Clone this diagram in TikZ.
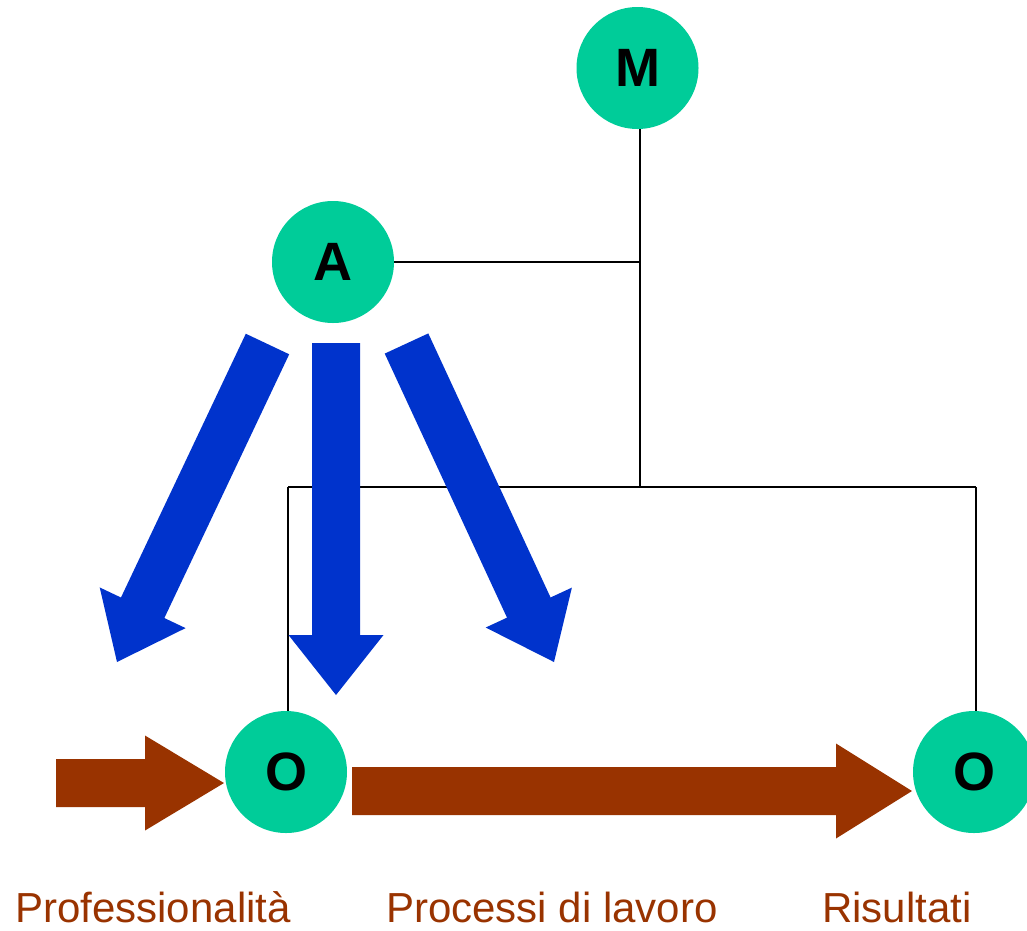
\documentclass[tikz,border=0pt]{standalone}
\usepackage{fontspec}
\setmainfont{Liberation Sans}
\usetikzlibrary{calc,backgrounds}
\definecolor{nodegreen}{HTML}{00CC99}
\definecolor{arrowblue}{HTML}{0033CC}
\definecolor{mybrown}{HTML}{993300}
% tail, tip, shaft half-width, head half-width, head length, style
\newcommand{\fatarrow}[6]{%
  \coordinate (hb) at ($(#2)!#5!(#1)$);
  \fill[#6] ($(#1)!#3!90:(#2)$) -- ($(hb)!#3!90:(#2)$) -- ($(hb)!#4!90:(#2)$)
    -- (#2) -- ($(hb)!#4!-90:(#2)$) -- ($(hb)!#3!-90:(#2)$) -- ($(#1)!#3!-90:(#2)$) -- cycle;
}
\tikzset{
  ball/.style={circle, minimum size=122pt, inner sep=0pt, fill=nodegreen,
    font=\bfseries\fontsize{54}{54}\selectfont},
  conn/.style={draw=black, line width=1.7pt},
  bluefill/.style={fill=arrowblue},
  brownfill/.style={fill=mybrown},
  lbl/.style={anchor=base, inner sep=0pt, text=mybrown, font=\fontsize{42}{42}\selectfont}
}
\begin{document}
\begin{tikzpicture}[x=1pt,y=-1pt]
\useasboundingbox (0,0) rectangle (1027,930);
\node[ball] (M) at (637.5,68) {M};
\node[ball] (A) at (333,262) {A};
\node[ball] (O1) at (286,772) {O};
\node[ball] (O2) at (974,772) {O};
\coordinate (bus) at (640,487);
\coordinate (busl) at (288,487);
\coordinate (busr) at (976,487);
\begin{scope}[on background layer]
  \draw[conn] (bus |- M.south) -- (bus);
  \draw[conn] (A.east) -- (A.east -| bus);
  \draw[conn] (busl) -- (busr);
  \draw[conn] (busl) -- (busl |- O1.north);
  \draw[conn] (busr) -- (busr |- O2.north);
\end{scope}
% blue arrows
\coordinate (bl1) at (267.5,344); \coordinate (bl2) at (117,662);
\coordinate (bm1) at (336,343);   \coordinate (bm2) at (336,695);
\coordinate (br1) at (406.5,343.5); \coordinate (br2) at (554,662);
\fatarrow{bl1}{bl2}{24pt}{47.5pt}{60pt}{bluefill}
\fatarrow{bm1}{bm2}{24pt}{47.5pt}{60pt}{bluefill}
\fatarrow{br1}{br2}{24pt}{47.5pt}{60pt}{bluefill}
% brown arrows
\coordinate (w1) at (56,783);  \coordinate (w2) at (224,783);
\coordinate (m1) at (352,791); \coordinate (m2) at (912,791);
\fatarrow{w1}{w2}{24pt}{47.5pt}{79pt}{brownfill}
\fatarrow{m1}{m2}{24pt}{47.5pt}{76pt}{brownfill}
% labels
\node[lbl] (l1) at (153,922) {Professionalità};
\node[lbl] (l2) at (552,922) {Processi di lavoro};
\node[lbl] (l3) at (897,922) {Risultati};
\end{tikzpicture}
\end{document}
